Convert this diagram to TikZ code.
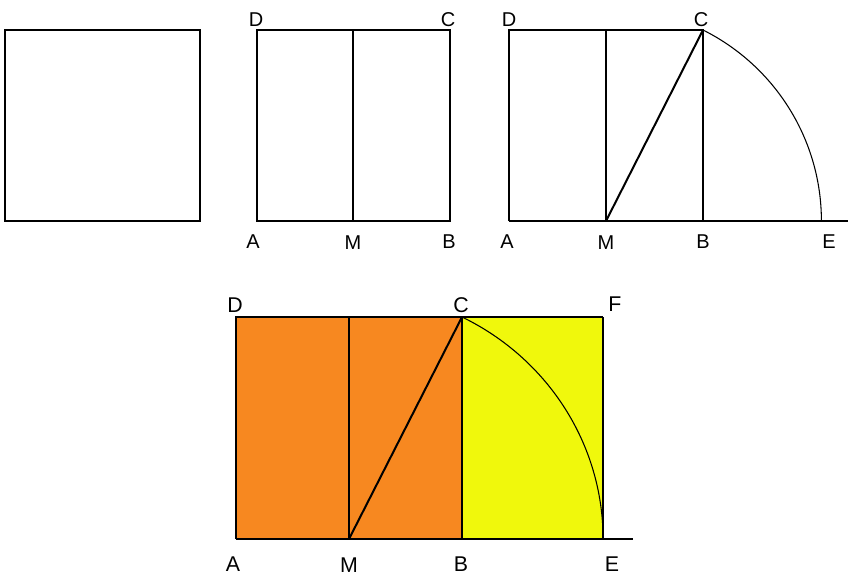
\documentclass[tikz,border=0pt]{standalone}
\usepackage{fontspec}
\setmainfont{Liberation Sans}
\usepackage{xcolor}
\definecolor{squareorange}{RGB}{247,136,32}
\definecolor{squareyellow}{RGB}{240,248,12}
\tikzset{
  side/.style={line width=1.5pt},
  arcline/.style={line width=0.8pt},
  ptlabel/.style={inner sep=0pt, font=\fontsize{15}{17}\selectfont},
  bigptlabel/.style={inner sep=0pt, font=\fontsize{16}{19}\selectfont}
}

\begin{document}
\begin{tikzpicture}[x=0.75pt,y=0.75pt,yscale=-1]
    \useasboundingbox (0,0) rectangle (850,586); %picture is 850 by 586

    %Shape: plain square
    \coordinate (sA) at (5,221);
    \coordinate (sC) at (200,30);
    \draw [side] (sA) rectangle (sC);

    %Shape: square halved at M
    \coordinate (hA) at (257,221);
    \coordinate (hM) at (353,221);
    \coordinate (hB) at (450,221);
    \coordinate (hC) at (450,30);
    \coordinate (hD) at (257,30);
    \coordinate (hN) at (353,30);
    \draw [side] (hA) -- (hB) -- (hC) -- (hD) -- cycle;
    \draw [side] (hM) -- (hN);

    % Text Node
    \node [ptlabel] (hDl) at (256,20) {D};
    \node [ptlabel] (hCl) at (448,20) {C};
    \node [ptlabel] (hAl) at (253,242) {A};
    \node [ptlabel] (hMl) at (353,243) {M};
    \node [ptlabel] (hBl) at (449,242) {B};

    %Shape: square with the arc from C down to E
    \coordinate (tA) at (509,221);
    \coordinate (tM) at (606,221);
    \coordinate (tB) at (703,221);
    \coordinate (tC) at (703,30);
    \coordinate (tD) at (509,30);
    \coordinate (tN) at (606,30);
    \coordinate (tE) at (821,221);
    \coordinate (tEnd) at (848,221);
    \draw [side] (tA) -- (tEnd);
    \draw [side] (tA) -- (tD) -- (tC) -- (tB);
    \draw [side] (tM) -- (tN);
    \draw [side] (tM) -- (tC);
    %Curve Lines
    \draw [arcline] (tC) arc [start angle=-63.3, end angle=0, x radius=215, y radius=213.7];

    % Text Node
    \node [ptlabel] (tDl) at (509,20) {D};
    \node [ptlabel] (tCl) at (701,20) {C};
    \node [ptlabel] (tAl) at (507,242) {A};
    \node [ptlabel] (tMl) at (606,243) {M};
    \node [ptlabel] (tBl) at (703,242) {B};
    \node [ptlabel] (tEl) at (829,242) {E};

    %Shape: golden rectangle, coloured
    \coordinate (gA) at (236,539);
    \coordinate (gM) at (349,539);
    \coordinate (gB) at (462,539);
    \coordinate (gE) at (603,539);
    \coordinate (gEnd) at (633,539);
    \coordinate (gD) at (236,317);
    \coordinate (gN) at (349,317);
    \coordinate (gC) at (462,317);
    \coordinate (gF) at (603,317);
    \fill [squareorange] (gA) rectangle (gC);
    \fill [squareyellow] (gB) rectangle (gF);
    \draw [side] (gA) -- (gEnd);
    \draw [side] (gA) -- (gD) -- (gF);
    \draw [line width=1pt] (gF) -- (gE);
    \draw [side] (gM) -- (gN);
    \draw [side] (gB) -- (gC);
    \draw [side] (gM) -- (gC);
    %Curve Lines
    \draw [arcline] (gC) arc [start angle=-63.6, end angle=0, x radius=254, y radius=247.8];

    % Text Node
    \node [bigptlabel] (gDl) at (235,305) {D};
    \node [bigptlabel] (gCl) at (461,305) {C};
    \node [bigptlabel] (gFl) at (615,304) {F};
    \node [bigptlabel] (gAl) at (233,564) {A};
    \node [bigptlabel] (gMl) at (349,565) {M};
    \node [bigptlabel] (gBl) at (461,564) {B};
    \node [bigptlabel] (gEl) at (612,564) {E};

\end{tikzpicture}
\end{document}
